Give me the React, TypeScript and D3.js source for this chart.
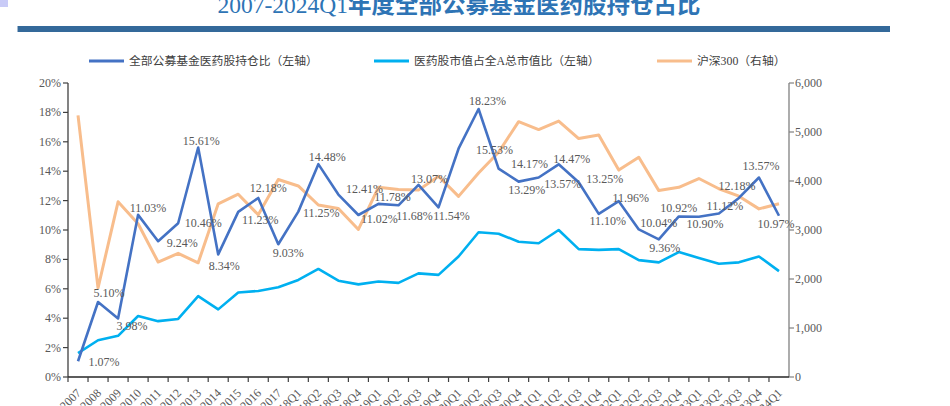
import React from 'react';
import * as d3 from 'd3';

const categories = [
  '2007', '2008', '2009', '2010', '2011', '2012', '2013', '2014', '2015', '2016', '2017',
  '2018Q1', '2018Q2', '2018Q3', '2018Q4',
  '2019Q1', '2019Q2', '2019Q3', '2019Q4',
  '2020Q1', '2020Q2', '2020Q3', '2020Q4',
  '2021Q1', '2021Q2', '2021Q3', '2021Q4',
  '2022Q1', '2022Q2', '2022Q3', '2022Q4',
  '2023Q1', '2023Q2', '2023Q3', '2023Q4',
  '2024Q1',
];

// 全部公募基金医药股持仓比 (%)
const fundHolding = [
  1.07, 5.10, 3.98, 11.03, 9.24, 10.46, 15.61, 8.34, 11.23, 12.18, 9.03,
  11.25, 14.48, 12.41, 11.02,
  11.78, 11.68, 13.07, 11.54,
  15.53, 18.23, 14.17, 13.29,
  13.57, 14.47, 13.25, 11.10,
  11.96, 10.04, 9.36, 10.92,
  10.90, 11.12, 12.18, 13.57,
  10.97,
];

// 医药股市值占全A总市值比 (%)
const marketShare = [
  1.63, 2.5, 2.8, 4.15, 3.8, 3.95, 5.5, 4.6, 5.75, 5.85, 6.1,
  6.6, 7.35, 6.55, 6.3,
  6.5, 6.4, 7.05, 6.95,
  8.2, 9.85, 9.75, 9.2,
  9.1, 10.0, 8.7, 8.65,
  8.7, 7.95, 7.8, 8.5,
  8.1, 7.7, 7.8, 8.2,
  7.2,
];

// 沪深300
const csi300 = [
  5338, 1817, 3575, 3128, 2346, 2523, 2331, 3534, 3731, 3310, 4031,
  3899, 3510, 3438, 3011,
  3872, 3826, 3814, 4097,
  3686, 4164, 4587, 5211,
  5049, 5224, 4866, 4940,
  4223, 4485, 3804, 3872,
  4051, 3842, 3690, 3431,
  3537,
];

const leftTicks = [0, 2, 4, 6, 8, 10, 12, 14, 16, 18, 20];
const rightTicks = [0, 1000, 2000, 3000, 4000, 5000, 6000];

const titleLatin = '2007-2024Q1';
const titleCJK = '年度全部公募基金医药股持仓占比';
const legendLabels = ['全部公募基金医药股持仓比（左轴）', '医药股市值占全A总市值比（左轴）', '沪深300（右轴）'];

// label placement offsets (dx, dy) relative to each point
const labelOffsets: [number, number][] = [
  [26, 1], [11, -9], [14, 8], [10, -7], [24, 2], [25, 0], [3, -7], [6, 12], [22, 8], [10, -10], [10, 9],
  [23, 1], [9, -7], [26, -6], [21, 4],
  [14, -7], [16, 11], [11, -6], [13, 9],
  [36, 1], [9, -8], [31, -5], [8, 8],
  [24, 6], [13, -5], [26, -3], [9, 7],
  [12, -3], [20, -6], [6, 9], [0, -8],
  [6, 7], [6, -8], [-2, -12], [2, -12],
  [-3, 8],
];

const W = 950;
const H = 406;
const M = { left: 68, right: 789, top: 83, bottom: 377 };

const C1 = '#4472C4';
const C2 = '#00B0F0';
const C3 = '#F8BD8C';
const TXT = '#595959';
const SERIF = '"Liberation Serif", "Times New Roman", serif';
const CJK = '"Liberation Serif", "Noto Sans CJK SC", serif';

export default function App() {
  const x = d3.scaleBand<string>().domain(categories).range([M.left, M.right]).padding(0);
  const cx = (c: string) => (x(c) ?? 0) + x.bandwidth() / 2;
  const yL = d3.scaleLinear().domain([0, 20]).range([M.bottom, M.top]);
  const yR = d3.scaleLinear().domain([0, 6000]).range([M.bottom, M.top]);

  const lineL = d3.line<number>().x((_, i) => cx(categories[i])).y((d) => yL(d));
  const lineR = d3.line<number>().x((_, i) => cx(categories[i])).y((d) => yR(d));

  const fmtR = d3.format(',');

  const legendX = [89, 374, 657];

  return (
    <svg width={W} height={H} style={{ position: 'absolute', left: 0, top: 0, background: '#fff' }}>
      <rect x={0} y={0} width={8} height={7} fill="#C9CBF7" />
      <text x={459} y={13} textAnchor="middle" fontFamily={CJK} fontSize={23.5} fill="#2E74B5">
        <tspan fontWeight={400}>{titleLatin}</tspan>
        <tspan fontWeight={600}>{titleCJK}</tspan>
      </text>
      <rect x={17} y={26} width={873} height={6} fill="#34699A" />
      <rect x={17} y={26} width={1} height={6} fill="#9FB7CF" />

      {legendLabels.map((l, i) => (
        <g key={l}>
          <line x1={legendX[i]} x2={legendX[i] + 35} y1={61} y2={61} stroke={[C1, C2, C3][i]} strokeWidth={3} />
          <text x={legendX[i] + 40} y={61} dominantBaseline="central" fontFamily={CJK} fontSize={11.8} fill="#404040">
            {l}
          </text>
        </g>
      ))}

      {/* left axis */}
      <line x1={M.left} x2={M.left} y1={M.top} y2={M.bottom} stroke="#404040" strokeWidth={1.3} />
      {leftTicks.map((t) => (
        <g key={'l' + t}>
          <line x1={M.left - 5} x2={M.left} y1={yL(t)} y2={yL(t)} stroke="#404040" strokeWidth={1.2} />
          <text x={M.left - 7} y={yL(t)} textAnchor="end" dominantBaseline="central" fontFamily={SERIF} fontSize={12} fill={TXT}>
            {t + '%'}
          </text>
        </g>
      ))}

      {/* right axis */}
      <line x1={M.right} x2={M.right} y1={M.top} y2={M.bottom} stroke="#808080" strokeWidth={1.3} />
      {rightTicks.map((t) => (
        <g key={'r' + t}>
          <line x1={M.right} x2={M.right + 5} y1={yR(t)} y2={yR(t)} stroke="#808080" strokeWidth={1.2} />
          <text x={M.right + 6} y={yR(t)} dominantBaseline="central" fontFamily={SERIF} fontSize={12} fill={TXT}>
            {fmtR(t)}
          </text>
        </g>
      ))}

      {/* bottom axis */}
      <line x1={M.left} x2={M.right} y1={M.bottom} y2={M.bottom} stroke="#262626" strokeWidth={1.5} />
      {categories.map((c) => (
        <line key={'t' + c} x1={x(c)} x2={x(c)} y1={M.bottom} y2={M.bottom + 5} stroke="#404040" strokeWidth={1.2} />
      ))}
      {categories.map((c) => (
        <text
          key={'x' + c}
          transform={`translate(${cx(c) + 1},${M.bottom + 14}) rotate(-45)`}
          textAnchor="end"
          dominantBaseline="central"
          fontFamily={SERIF}
          fontSize={12}
          fill={TXT}
        >
          {c}
        </text>
      ))}

      {/* lines */}
      <path d={lineR(csi300) ?? ''} fill="none" stroke={C3} strokeWidth={3} strokeLinejoin="round" />
      <path d={lineL(marketShare) ?? ''} fill="none" stroke={C2} strokeWidth={2.6} strokeLinejoin="round" />
      <path d={lineL(fundHolding) ?? ''} fill="none" stroke={C1} strokeWidth={2.6} strokeLinejoin="round" />

      {/* data labels */}
      {fundHolding.map((v, i) => (
        <text
          key={'d' + i}
          x={cx(categories[i]) + labelOffsets[i][0]}
          y={yL(v) + labelOffsets[i][1]}
          textAnchor="middle"
          dominantBaseline="central"
          fontFamily={SERIF}
          fontSize={12}
          fill={TXT}
        >
          {v.toFixed(2) + '%'}
        </text>
      ))}
    </svg>
  );
}
